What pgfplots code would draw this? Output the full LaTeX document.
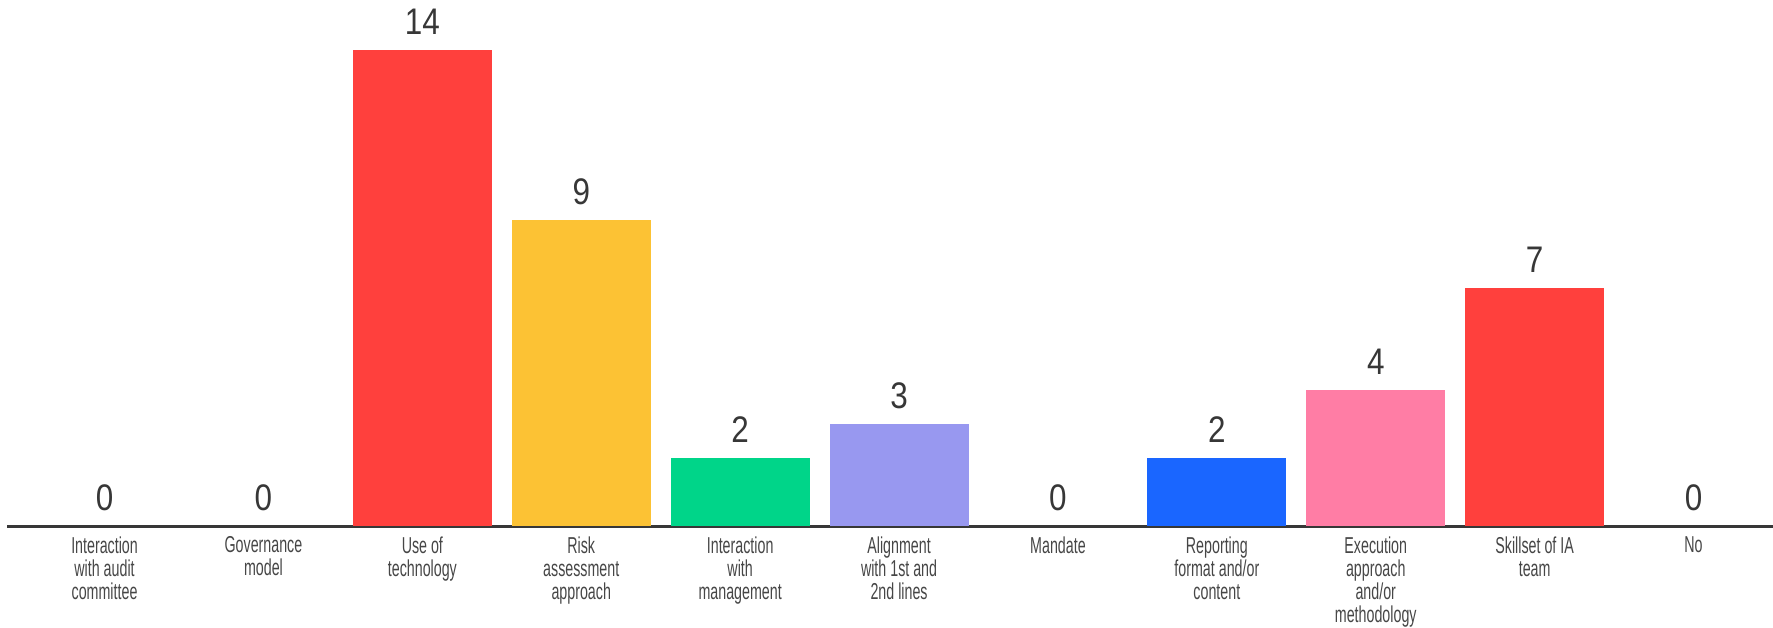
\documentclass[border=0pt]{standalone}
\usepackage{fontspec}
\setmainfont{Liberation Sans}
\newfontfamily\labfont{Liberation Sans}[FakeStretch=0.62]
\newfontfamily\numfont{Liberation Sans}[FakeStretch=0.85]
\usepackage{pgfplots}
\pgfplotsset{compat=1.18}
\definecolor{cred}{RGB}{255,64,61}
\definecolor{cyel}{RGB}{252,194,52}
\definecolor{cgrn}{RGB}{0,213,137}
\definecolor{clav}{RGB}{152,152,240}
\definecolor{cblu}{RGB}{26,102,255}
\definecolor{cpnk}{RGB}{255,125,165}
\definecolor{ctxt}{RGB}{55,55,55}
\definecolor{clab}{RGB}{70,70,70}
\begin{document}
\begin{tikzpicture}
\begin{axis}[
  at={(0,0)}, anchor=south west,
  scale only axis, width=883pt, height=255pt,
  xmin=-0.614, xmax=10.5, ymin=0, ymax=15,
  axis x line*=bottom, axis y line=none,
  x axis line style={-, color=ctxt, line width=1.5pt},
  ytick=\empty,
  xtick={0,1,2,3,4,5,6,7,8,9,10},
  xticklabels={{Interaction\\with audit\\committee},{Governance\\model},{Use of\\technology},{Risk\\assessment\\approach},{Interaction\\with\\management},{Alignment\\with 1st and\\2nd lines},{Mandate},{Reporting\\format and/or\\content},{Execution\\approach\\and/or\\methodology},{Skillset of IA\\team},{No}},
  xticklabel style={align=center, font=\labfont\fontsize{11.5}{11.5}\selectfont, text=clab, anchor=north, inner sep=0pt, yshift=-5pt},
  major tick length=0pt,
  /pgf/number format/assume math mode=true,
  ybar, bar width=69.5pt, bar shift=0pt,
  nodes near coords={\numfont\fontsize{18.5}{20}\selectfont\pgfmathprintnumber{\pgfplotspointmeta}},
  every node near coord/.append style={text=ctxt, anchor=south, inner sep=0pt, yshift=7.5pt},
  clip=false,
]
\addplot[draw=none, fill=none] coordinates {(0,0) (1,0) (6,0) (10,0)};
\addplot[draw=none, fill=cred] coordinates {(2,14)};
\addplot[draw=none, fill=cyel] coordinates {(3,9)};
\addplot[draw=none, fill=cgrn] coordinates {(4,2)};
\addplot[draw=none, fill=clav] coordinates {(5,3)};
\addplot[draw=none, fill=cblu] coordinates {(7,2)};
\addplot[draw=none, fill=cpnk] coordinates {(8,4)};
\addplot[draw=none, fill=cred] coordinates {(9,7)};
\end{axis}
\pgfresetboundingbox
\path[use as bounding box] (-3.5pt,-50.5pt) rectangle (883pt,263pt);
\end{tikzpicture}
\end{document}
